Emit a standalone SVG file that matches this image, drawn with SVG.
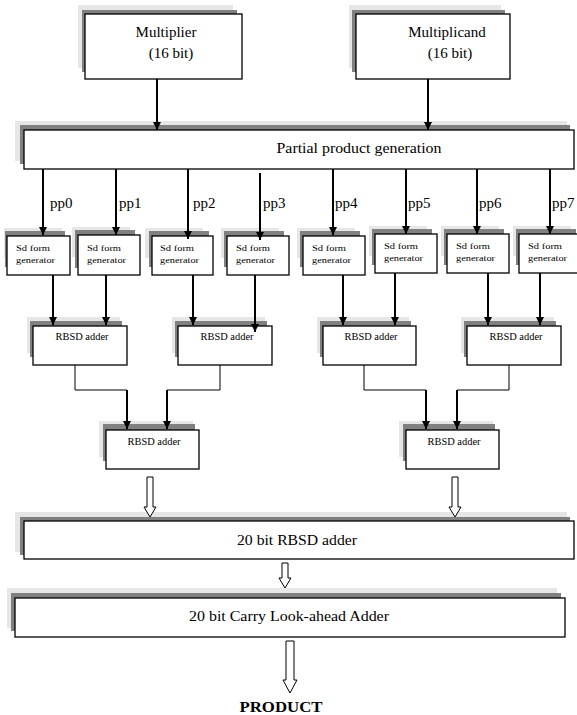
<svg xmlns="http://www.w3.org/2000/svg" width="577" height="715" viewBox="0 0 577 715">
<style>
.box{fill:#fff;stroke:#000;stroke-width:1.3}
.sh1{fill:#e6e6e6}
.sh2{fill:#808080}
.t{font-family:"Liberation Serif","Times New Roman",serif;fill:#000}
.big{font-size:15px}
.sd{font-size:9px}
.rb{font-size:10px}
.pp{font-size:15px}
.arr{stroke:#000;stroke-width:2;fill:none;marker-end:url(#ah)}
.thin{stroke:#000;stroke-width:1;fill:none}
.hollow{fill:#fff;stroke:#000;stroke-width:1}
</style>
<defs>
<marker id="ah" viewBox="0 0 10 10" refX="10" refY="5" markerWidth="9" markerHeight="8" markerUnits="userSpaceOnUse" orient="auto"><path d="M0,0 L10,5 L0,10 z" fill="#000"/></marker>
</defs>
<rect width="577" height="715" fill="#fff"/>

<g id="multiplier">
<rect class="sh1" x="78" y="5" width="155" height="63"/>
<rect class="sh2" x="82" y="10" width="155" height="62"/>
<rect class="box" x="85" y="14" width="157" height="65"/>
<text class="t big" x="166" y="37" text-anchor="middle">Multiplier</text>
<text class="t big" x="171" y="58" text-anchor="middle">(16 bit)</text>
</g>

<g id="multiplicand">
<rect class="sh1" x="349" y="5" width="152" height="63"/>
<rect class="sh2" x="352" y="10" width="153" height="62"/>
<rect class="box" x="356" y="14" width="154" height="65"/>
<text class="t big" x="447" y="37" text-anchor="middle">Multiplicand</text>
<text class="t big" x="450" y="58" text-anchor="middle">(16 bit)</text>
</g>

<g id="partial">
<rect class="sh1" x="15" y="121" width="552" height="40"/>
<rect class="sh2" x="20" y="125" width="550" height="39"/>
<rect class="box" x="24" y="130" width="550" height="39"/>
<text class="t big" x="359" y="153" text-anchor="middle" textLength="165" lengthAdjust="spacingAndGlyphs">Partial product generation</text>
</g>

<g id="sd0">
<rect class="sh1" x="4" y="228" width="58" height="30"/>
<rect class="sh2" x="5" y="231" width="60" height="36"/>
<rect class="box" x="7" y="236" width="63" height="39"/>
<text class="t sd" x="16" y="251" textLength="34" lengthAdjust="spacingAndGlyphs">Sd form</text>
<text class="t sd" x="16" y="263" textLength="39" lengthAdjust="spacingAndGlyphs">generator</text>
</g>
<g id="sd1">
<rect class="sh1" x="72" y="227" width="58" height="30"/>
<rect class="sh2" x="75" y="230" width="60" height="38"/>
<rect class="box" x="78" y="235" width="62" height="40"/>
<text class="t sd" x="87" y="251" textLength="34" lengthAdjust="spacingAndGlyphs">Sd form</text>
<text class="t sd" x="87" y="263" textLength="39" lengthAdjust="spacingAndGlyphs">generator</text>
</g>
<g id="sd2">
<rect class="sh1" x="145" y="228" width="58" height="30"/>
<rect class="sh2" x="149" y="231" width="60" height="36"/>
<rect class="box" x="152" y="236" width="61" height="39"/>
<text class="t sd" x="160" y="251" textLength="34" lengthAdjust="spacingAndGlyphs">Sd form</text>
<text class="t sd" x="160" y="263" textLength="39" lengthAdjust="spacingAndGlyphs">generator</text>
</g>
<g id="sd3">
<rect class="sh1" x="221" y="228" width="58" height="30"/>
<rect class="sh2" x="224" y="231" width="60" height="36"/>
<rect class="box" x="227" y="236" width="62" height="39"/>
<text class="t sd" x="236" y="251" textLength="34" lengthAdjust="spacingAndGlyphs">Sd form</text>
<text class="t sd" x="236" y="263" textLength="39" lengthAdjust="spacingAndGlyphs">generator</text>
</g>
<g id="sd4">
<rect class="sh1" x="297" y="228" width="58" height="30"/>
<rect class="sh2" x="300" y="231" width="60" height="36"/>
<rect class="box" x="303" y="236" width="62" height="39"/>
<text class="t sd" x="312" y="251" textLength="34" lengthAdjust="spacingAndGlyphs">Sd form</text>
<text class="t sd" x="312" y="263" textLength="39" lengthAdjust="spacingAndGlyphs">generator</text>
</g>
<g id="sd5">
<rect class="sh1" x="369" y="226" width="58" height="30"/>
<rect class="sh2" x="372" y="229" width="60" height="36"/>
<rect class="box" x="375" y="234" width="62" height="39"/>
<text class="t sd" x="384" y="249" textLength="34" lengthAdjust="spacingAndGlyphs">Sd form</text>
<text class="t sd" x="384" y="261" textLength="39" lengthAdjust="spacingAndGlyphs">generator</text>
</g>
<g id="sd6">
<rect class="sh1" x="441" y="226" width="58" height="30"/>
<rect class="sh2" x="444" y="229" width="60" height="36"/>
<rect class="box" x="447" y="234" width="62" height="39"/>
<text class="t sd" x="456" y="249" textLength="34" lengthAdjust="spacingAndGlyphs">Sd form</text>
<text class="t sd" x="456" y="261" textLength="39" lengthAdjust="spacingAndGlyphs">generator</text>
</g>
<g id="sd7">
<rect class="sh1" x="513" y="226" width="58" height="30"/>
<rect class="sh2" x="516" y="229" width="60" height="36"/>
<rect class="box" x="519" y="234" width="62" height="39"/>
<text class="t sd" x="528" y="249" textLength="34" lengthAdjust="spacingAndGlyphs">Sd form</text>
<text class="t sd" x="528" y="261" textLength="39" lengthAdjust="spacingAndGlyphs">generator</text>
</g>

<g id="rbsdA">
<rect class="sh1" x="27" y="317" width="93" height="36"/>
<rect class="sh2" x="30" y="321" width="92" height="36"/>
<rect class="box" x="33" y="326" width="94" height="39"/>
<text class="t rb" x="82" y="340" text-anchor="middle" textLength="53" lengthAdjust="spacingAndGlyphs">RBSD adder</text>
</g>
<g id="rbsdB">
<rect class="sh1" x="172" y="317" width="93" height="36"/>
<rect class="sh2" x="175" y="321" width="92" height="36"/>
<rect class="box" x="178" y="326" width="94" height="39"/>
<text class="t rb" x="227" y="340" text-anchor="middle" textLength="53" lengthAdjust="spacingAndGlyphs">RBSD adder</text>
</g>
<g id="rbsdD">
<rect class="sh1" x="317" y="317" width="92" height="36"/>
<rect class="sh2" x="320" y="321" width="91" height="36"/>
<rect class="box" x="323" y="326" width="93" height="39"/>
<text class="t rb" x="371" y="340" text-anchor="middle" textLength="53" lengthAdjust="spacingAndGlyphs">RBSD adder</text>
</g>
<g id="rbsdE">
<rect class="sh1" x="461" y="317" width="93" height="36"/>
<rect class="sh2" x="464" y="321" width="92" height="36"/>
<rect class="box" x="467" y="326" width="94" height="39"/>
<text class="t rb" x="516" y="340" text-anchor="middle" textLength="53" lengthAdjust="spacingAndGlyphs">RBSD adder</text>
</g>
<g id="rbsdC">
<rect class="sh1" x="99" y="421" width="94" height="36"/>
<rect class="sh2" x="103" y="424" width="92" height="37"/>
<rect class="box" x="106" y="430" width="93" height="39"/>
<text class="t rb" x="154" y="445" text-anchor="middle" textLength="53" lengthAdjust="spacingAndGlyphs">RBSD adder</text>
</g>
<g id="rbsdF">
<rect class="sh1" x="399" y="421" width="94" height="36"/>
<rect class="sh2" x="403" y="424" width="92" height="37"/>
<rect class="box" x="406" y="430" width="93" height="39"/>
<text class="t rb" x="454" y="445" text-anchor="middle" textLength="53" lengthAdjust="spacingAndGlyphs">RBSD adder</text>
</g>

<g id="rbsd20">
<rect class="sh1" x="15" y="512" width="552" height="40"/>
<rect class="sh2" x="20" y="517" width="550" height="38"/>
<rect class="box" x="24" y="521" width="550" height="38"/>
<text class="t big" x="297" y="545" text-anchor="middle" textLength="120" lengthAdjust="spacingAndGlyphs">20 bit RBSD adder</text>
</g>

<g id="cla">
<rect class="sh1" x="7" y="588" width="550" height="40"/>
<rect class="sh2" x="11" y="593" width="550" height="38"/>
<rect class="box" x="15" y="598" width="550" height="39"/>
<text class="t big" x="289" y="621" text-anchor="middle" textLength="200" lengthAdjust="spacingAndGlyphs">20 bit Carry Look-ahead Adder</text>
</g>

<g id="product">
<text class="t" x="281" y="712" text-anchor="middle" font-size="15" font-weight="bold" textLength="83" lengthAdjust="spacingAndGlyphs">PRODUCT</text>
</g>

<g id="connectors">
<line class="arr" x1="157" y1="79" x2="157" y2="130"/>
<line class="arr" x1="428" y1="79" x2="428" y2="130"/>

<line class="arr" x1="43" y1="169" x2="43" y2="235"/>
<line class="arr" x1="116" y1="169" x2="116" y2="235"/>
<line class="arr" x1="188" y1="169" x2="188" y2="239"/>
<line class="arr" x1="260" y1="173" x2="260" y2="240"/>
<line class="arr" x1="333" y1="169" x2="333" y2="235"/>
<line class="arr" x1="406" y1="169" x2="406" y2="234"/>
<line class="arr" x1="477" y1="169" x2="477" y2="234"/>
<line class="arr" x1="550" y1="169" x2="550" y2="234"/>

<text class="t pp" x="50" y="208">pp0</text>
<text class="t pp" x="119" y="208">pp1</text>
<text class="t pp" x="193" y="208">pp2</text>
<text class="t pp" x="263" y="208">pp3</text>
<text class="t pp" x="335" y="208">pp4</text>
<text class="t pp" x="408" y="208">pp5</text>
<text class="t pp" x="479" y="208">pp6</text>
<text class="t pp" x="552" y="208">pp7</text>

<line class="arr" x1="53" y1="275" x2="53" y2="325"/>
<line class="arr" x1="106" y1="275" x2="106" y2="325"/>
<line class="arr" x1="193" y1="275" x2="193" y2="325"/>
<line class="arr" x1="255" y1="275" x2="255" y2="332"/>
<line class="arr" x1="343" y1="275" x2="343" y2="325"/>
<line class="arr" x1="395" y1="273" x2="395" y2="325"/>
<line class="arr" x1="488" y1="273" x2="488" y2="325"/>
<line class="arr" x1="540" y1="273" x2="540" y2="325"/>

<polyline class="thin" points="75,365 75,390 127,390"/>
<line class="arr" x1="127" y1="390" x2="127" y2="429"/>
<polyline class="thin" points="220,365 220,390 167,390"/>
<line class="arr" x1="167" y1="390" x2="167" y2="429"/>
<polyline class="thin" points="364,365 364,390 426,390"/>
<line class="arr" x1="426" y1="390" x2="426" y2="429"/>
<polyline class="thin" points="509,365 509,390 457,390"/>
<line class="arr" x1="457" y1="390" x2="457" y2="429"/>

<path class="hollow" d="M147,477 H153 V507 H156 L150,517 L144,507 H147 Z"/>
<path class="hollow" d="M452,477 H458 V507 H461 L455,517 L449,507 H452 Z"/>
<path class="hollow" d="M282,563 H288 V578 H291 L285,588 L279,578 H282 Z"/>
<path class="hollow" d="M286,641 H294 V680 H297 L290,693 L283,680 H286 Z"/>
</g>
</svg>
